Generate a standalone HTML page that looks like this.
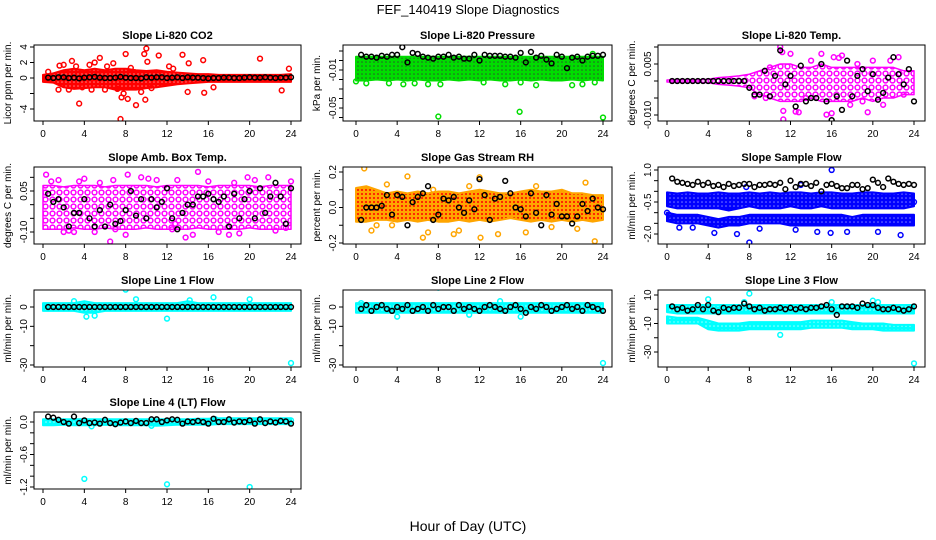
<!DOCTYPE html>
<html><head><meta charset="utf-8"><style>
html,body{margin:0;padding:0;background:#fff;}
svg{display:block;font-family:"Liberation Sans",sans-serif;}
</style></head><body>
<svg id="chart" width="936" height="540" viewBox="0 0 936 540" xmlns="http://www.w3.org/2000/svg">
<defs>
<pattern id="p-red" width="4" height="4" patternUnits="userSpaceOnUse"><rect width="4" height="4" fill="#ff0000"/><circle cx="2" cy="2" r="0.8" fill="#ff8080"/></pattern>
<pattern id="p-green" width="4" height="4" patternUnits="userSpaceOnUse"><rect width="4" height="4" fill="#00dd00"/><circle cx="2" cy="2" r="0.8" fill="#2a5a2a"/></pattern>
<pattern id="p-mag" width="7" height="7" patternUnits="userSpaceOnUse"><rect width="7" height="7" fill="#fff"/><circle cx="3.5" cy="3.5" r="2.4" fill="none" stroke="#ff00ff" stroke-width="1.5"/></pattern>
<pattern id="p-orange" width="4" height="4" patternUnits="userSpaceOnUse"><rect width="4" height="4" fill="#ffa500"/><circle cx="2" cy="2" r="1" fill="#ff0000"/></pattern>
<pattern id="p-blue" width="4" height="4" patternUnits="userSpaceOnUse"><rect width="4" height="4" fill="#0000ff"/><circle cx="2" cy="2" r="0.8" fill="#8080ff"/></pattern>
<pattern id="p-cyan" width="4" height="4" patternUnits="userSpaceOnUse"><rect width="4" height="4" fill="#00ffff"/><circle cx="2" cy="2" r="0.8" fill="#a0ffff"/></pattern>
</defs>
<text x="468" y="14" text-anchor="middle" font-size="13">FEF_140419  Slope Diagnostics</text>
<text x="468" y="531" text-anchor="middle" font-size="14">Hour of Day (UTC)</text>
</svg>
<script>
const NS="http://www.w3.org/2000/svg";
const svg=document.getElementById('chart');
const H=[0.5,1,1.5,2,2.5,3,3.5,4,4.5,5,5.5,6,6.5,7,7.5,8,8.5,9,9.5,10,10.5,11,11.5,12,12.5,13,13.5,14,14.5,15,15.5,16,16.5,17,17.5,18,18.5,19,19.5,20,20.5,21,21.5,22,22.5,23,23.5,24];
const BH=[0,1,2,3,4,5,6,7,8,9,10,11,12,13,14,15,16,17,18,19,20,21,22,23,24];
const xTicks=[0,4,8,12,16,20,24];

// CO2
const co2Black=[0.05,0,0.1,0.1,0,0.05,-0.05,0.05,0.1,0.15,0.05,0,0,0.05,0.15,0.05,0,0,-0.05,0.1,0.05,0.1,0.1,0,0.05,0.1,0,0.1,0.05,0.05,0,-0.05,0,0,0.05,0.05,0,0,0.05,0.1,0.05,0.05,0.1,0.05,0,0.05,0.05,0.1];
const co2Lo=[-0.5,-0.6,-1.2,-1.4,-1.3,-1.2,-1.2,-1.5,-1.5,-1.5,-1.3,-1.2,-1.0,-0.8,-0.7,-0.6,-0.5,-0.5,-0.5,-0.5,-0.5,-0.5,-0.5,-0.5,-0.5];
const co2Hi=[0.4,0.6,1.0,1.2,1.0,1.2,1.0,1.2,1.2,1.0,0.9,1.0,0.8,0.7,0.6,0.5,0.5,0.4,0.4,0.4,0.4,0.4,0.4,0.4,0.5];
const co2PtsX=[0.5,1.5,1.6,2,2.5,2.8,3.2,3.5,3.8,4.5,4.7,5,5.5,6,6.2,6.8,7.2,7.5,7.6,7.8,8,8.2,8.5,9,9.5,9.8,10,10.1,9.9,10.5,11.2,12.2,12.6,13.5,14,14.1,15.5,15.6,16.5,21,23.1,23.8];
const co2PtsY=[0.8,-1.5,1.6,1.7,-1.5,2.2,1.5,-3.3,-1.2,1.7,-1.5,2,2.6,-1.5,1.5,1.9,-1.4,-5.3,-2.5,-2,3.1,-2.7,1.3,-3.5,-1.8,3.1,3.8,2.1,-2.8,-1.3,2.9,1.5,1.2,3,-1.8,1.9,2.3,-1.9,-1.2,2.5,-1.6,1.2];
const co2TickV=[-4,-2,0,2,4];
const co2TickL=["-4","","0","2","4"];

// Pressure
const presBlack=[0.006,0.004,0.004,0.003,0.005,0.004,0.006,0.006,0.014,-0.002,0.008,0.007,0.004,0.003,0.002,0.004,0.004,0.006,0.003,0.004,0.002,0.002,0.006,0,0.006,0.005,0.005,0.005,0.004,0.004,0.003,0.008,-0.002,0.009,0.003,0.005,0.001,-0.003,0.006,0.004,-0.008,0.003,0.004,0,0.004,0.005,0.005,0.006];
const presLo=[-0.021,-0.021,-0.02,-0.021,-0.02,-0.021,-0.02,-0.021,-0.021,-0.02,-0.021,-0.02,-0.021,-0.02,-0.021,-0.021,-0.02,-0.021,-0.02,-0.021,-0.021,-0.02,-0.021,-0.02,-0.021];
const presHi=[0.004,0.004,0.004,0.004,0.004,0.004,0.004,0.004,0.004,0.004,0.004,0.004,0.004,0.004,0.004,0.004,0.004,0.004,0.004,0.004,0.004,0.004,0.004,0.004,0.004];
const presPtsX=[0,1,3.2,4.6,5.7,7,8.2,12.4,14.5,16,17.5,21,22,23.2,8,15.9,24,23];
const presPtsY=[-0.022,-0.024,-0.024,-0.025,-0.024,-0.025,-0.025,-0.023,-0.025,-0.023,-0.026,-0.026,-0.025,-0.023,-0.059,-0.054,-0.06,0.007];
const presTickV=[0.01,0,-0.01,-0.02,-0.03,-0.04,-0.05,-0.06];
const presTickL=["","","-0.01","","","","-0.05",""];

// Li-820 temp
const tempBlack=[0,0,0,0,0,0,0,0,0,0,0,0,0,0,0,-0.002,-0.004,-0.004,0.003,-0.0045,0.0015,0.009,-0.001,0.0015,-0.0075,0.0045,-0.006,-0.005,-0.005,0.005,-0.006,-0.0115,-0.0045,-0.0085,0.006,-0.0045,0.0015,0.0035,-0.003,0.002,-0.0055,-0.0035,0.001,0.007,0.002,-0.001,0.0035,-0.006];
const tempLo=[-0.0003,-0.0003,-0.0003,-0.0003,-0.0005,-0.001,-0.0012,-0.0015,-0.002,-0.004,-0.005,-0.006,-0.006,-0.006,-0.005,-0.006,-0.006,-0.006,-0.006,-0.005,-0.006,-0.005,-0.005,-0.004,-0.004];
const tempHi=[0.0003,0.0003,0.0003,0.0003,0.0005,0.001,0.0012,0.0015,0.002,0.003,0.004,0.005,0.005,0.004,0.004,0.005,0.004,0.004,0.004,0.004,0.004,0.004,0.004,0.003,0.003];
const tempPtsX=[11,11.2,11.3,12.5,12.8,11.3,15,16.2,16.7,17,19.5,15.5,16,22.5,21.7,10,9.6,8.5,14,13.5,17.8,19,21,23,12,18.5,20];
const tempPtsY=[0.01,0.0085,-0.0113,-0.009,-0.0092,-0.0088,0.008,0.007,0.0068,0.0075,-0.0092,-0.0099,-0.0095,0.007,0.006,0.004,-0.005,-0.0045,0.006,-0.005,-0.007,-0.006,-0.007,-0.004,0.008,0.005,0.006];
const tempTickV=[0.01,0.005,0,-0.005,-0.01];
const tempTickL=["","0.005","","","-0.010"];

// Amb box temp
const ambBlack=[0.04,0.01,0.02,-0.01,-0.08,-0.03,-0.03,0.02,-0.05,-0.08,-0.02,-0.08,0,-0.07,-0.06,-0.02,0.05,-0.04,0.02,-0.05,0.02,-0.01,0.01,0.06,-0.05,-0.09,-0.03,0,0,0.03,0.03,0.04,0.02,0.01,0.03,-0.08,0.04,-0.05,0.02,0.05,-0.05,0.06,-0.03,0.03,0.08,0.03,-0.07,0.06];
const ambLo=[-0.09,-0.09,-0.09,-0.085,-0.09,-0.09,-0.085,-0.09,-0.09,-0.09,-0.085,-0.09,-0.09,-0.09,-0.09,-0.085,-0.09,-0.09,-0.09,-0.09,-0.085,-0.09,-0.09,-0.09,-0.09];
const ambHi=[0.07,0.07,0.065,0.07,0.07,0.07,0.065,0.07,0.07,0.07,0.07,0.065,0.07,0.07,0.07,0.07,0.065,0.07,0.07,0.07,0.07,0.065,0.07,0.07,0.07];
const ambPtsX=[0.3,1.5,2.5,3,4,5.5,6.8,7,8,8.2,9.5,10.2,12.5,13,13.8,14.5,15,18,18.5,19,19.8,21.8,23.5,6.5,12.8,0.8,2,3.5,5,11,16,17,20.5,22.5,24];
const ambPtsY=[0.11,0.09,-0.095,-0.1,0.095,0.08,0.09,-0.09,-0.11,0.11,0.1,0.095,-0.09,0.09,-0.12,-0.11,0.12,-0.11,0.08,-0.105,0.1,0.1,-0.085,-0.135,-0.07,0.085,-0.1,0.085,-0.1,0.09,0.085,-0.1,0.09,-0.095,0.085];
const ambTickV=[0.1,0.05,0,-0.05,-0.1];
const ambTickL=["","0.05","","","-0.10"];

// Gas stream RH
const rhBlack=[-0.07,0,0,0,0.01,0.07,-0.04,0.07,0.06,-0.1,0.03,0.06,0.08,0.12,-0.07,-0.04,0.05,0.04,0.06,0,-0.03,0.04,-0.01,0.16,0.07,-0.07,0.05,0.06,0.15,0.08,0,-0.01,-0.05,0.08,-0.03,-0.1,0.07,-0.04,0.02,-0.05,-0.05,-0.09,-0.05,0.02,-0.02,0.05,0,-0.01];
const rhLo=[-0.08,-0.08,-0.07,-0.07,-0.08,-0.07,-0.08,-0.07,-0.08,-0.08,-0.07,-0.08,-0.07,-0.08,-0.07,-0.06,-0.07,-0.08,-0.07,-0.08,-0.07,-0.08,-0.07,-0.08,-0.07];
const rhHi=[0.11,0.12,0.1,0.08,0.09,0.08,0.09,0.08,0.09,0.09,0.08,0.09,0.1,0.09,0.08,0.08,0.09,0.1,0.09,0.09,0.1,0.08,0.08,0.07,0.07];
const rhPtsX=[0.8,1.5,5,6.5,7,9.5,10,12,12.1,13.8,16.5,21.5,22.3,23.2,3,7.5,11,17.5,2,3.5,19];
const rhPtsY=[0.22,-0.13,0.175,-0.17,-0.14,-0.15,-0.13,0.17,-0.17,-0.15,-0.14,-0.12,0.14,-0.19,0.13,0.1,0.12,0.12,-0.1,-0.1,-0.11];
const rhTickV=[0.2,0.1,0,-0.1,-0.2];
const rhTickL=["0.2","","0.0","","-0.2"];

// Sample flow
const sfBlack=[0.6,0.45,0.4,0.35,0.3,0.45,0.3,0.4,0.25,0.3,0.2,0.35,0.25,0.3,0.35,0.35,0.2,0.3,0.3,0.35,0.3,0.4,0.1,0.5,0.2,0.35,0.35,0.25,0.4,0.0,0.3,0.35,0.25,0.15,0.15,0.3,0.3,0.1,0.15,0.55,0.4,0.2,0.6,0.45,0.35,0.3,0.35,0.3];
const sfUpLo=[-0.7,-0.8,-0.8,-0.8,-0.8,-0.8,-0.9,-0.8,-0.7,-0.8,-0.8,-0.8,-0.7,-0.8,-0.8,-0.7,-0.8,-0.8,-0.8,-0.8,-0.8,-0.8,-0.8,-0.8,-0.7];
const sfUpHi=[-0.05,-0.1,-0.05,-0.1,-0.1,-0.05,-0.1,-0.1,-0.05,-0.1,-0.05,-0.1,-0.05,-0.05,-0.1,-0.05,-0.05,-0.1,-0.1,-0.05,-0.05,-0.1,-0.1,-0.05,-0.1];
const sfLowLo=[-1.4,-1.5,-1.5,-1.5,-1.6,-1.7,-1.6,-1.6,-1.5,-1.5,-1.5,-1.5,-1.6,-1.6,-1.6,-1.6,-1.6,-1.6,-1.6,-1.6,-1.6,-1.6,-1.6,-1.6,-1.6];
const sfLowHi=[-1.0,-1.1,-1.1,-1.1,-1.2,-1.3,-1.2,-1.2,-1.1,-1.1,-1.1,-1.1,-1.1,-1.1,-1.1,-1.1,-1.1,-1.1,-1.2,-1.1,-1.1,-1.1,-1.1,-1.1,-1.1];
const sfPtsX=[8,16,6.8,4.6,15.9,22.7,12.5,14.6,17.5,20.5,1.2,2.5,9,13,7.7,0,0.2,24];
const sfPtsY=[-2.4,1.0,-2.0,-1.95,-1.95,-2.05,-1.8,-1.9,-1.9,-1.9,-1.7,-1.7,-1.75,0.3,0.2,-1.0,-1.1,-0.5];
const sfTickV=[1,0.5,0,-0.5,-1,-1.5,-2];
const sfTickL=["1.0","","","-0.5","","","-2.0"];

// Line 1
const l1Black=[0,0,0,0,0,0,0,0,0,0,0,0,0,0,0,0,0,0,0,0,0,0,0,0,0,0,0,0,0,0,0,0,0,0,0,0,0,0,0,0,0,0,0,0,0,0,0,0];
const l1Lo=[-2,-2,-2,-2,-3,-3,-2,-2,-2,-2,-2,-2,-2,-2,-2,-2,-2,-2,-2,-2,-2,-2,-2,-2,-2];
const l1Hi=[2,2,2,2,3,2,2,2,2,2,2,2,2,2,3,2,2,2,2,2,2,2,2,2,2];
const l1PtsX=[8,9,12,4.2,5,16.5,20,24,3,14.2];
const l1PtsY=[9,4,-6,-5,-4.5,5,4,-29,3,3.5];
const lineTickV=[0,-10,-20,-30];
const lineTickL=["0","-10","","-30"];

// Line 2
const l2Black=[-1,1,-2,0,1,-1,-2,0,-1,1,-2,-1,0,-2,1,-1,0,0,-2,1,-1,0,-1,-2,0,1,0,-1,-2,0,1,-1,-3,0,-1,1,0,-2,-1,0,1,-1,0,-2,1,0,-1,-2];
const l2Lo=[-3,-3,-3,-3,-3,-3,-3,-3,-3,-3,-3,-3,-3,-3,-3,-3,-3,-3,-3,-3,-3,-3,-3,-3,-3];
const l2Hi=[2,2,2,2,2,2,2,2,2,2,2,2,2,2,2,2,2,2,2,2,2,2,2,2,2];
const l2PtsX=[8,24,4,11,16,0.5,14];
const l2PtsY=[10,-29,-5,-4,-5,2,3];

// Line 3
const l3Black=[2,0,1,-1,0,3,0,3,-1,-2,1,0,1,1,4,2,0,1,-1,0,0,1,0,1,0,1,0,1,1,2,3,0,-4,2,2,2,1,4,3,3,1,0,0,1,0,-1,0,2];
const l3UpLo=[-2,-3,-3,-3,-3,-3,-3,-3,-3,-3,-3,-3,-3,-3,-3,-3,-3,-3,-3,-3,-3,-3,-3,-3,-3];
const l3UpHi=[3,3,3,3,3,3,3,3,3,3,3,3,3,3,3,3,3,3,3,3,3,3,3,3,3];
const l3LowLo=[-10,-10,-10,-10,-14,-15,-15,-15,-14,-14,-14,-14,-14,-14,-13,-13,-13,-13,-14,-14,-14,-15,-15,-15,-15];
const l3LowHi=[-5,-6,-6,-6,-8,-10,-10,-10,-9,-9,-9,-9,-9,-9,-8,-8,-8,-8,-9,-10,-10,-10,-11,-11,-11];
const l3PtsX=[8,4,24,11,7.5,16,20,20.5];
const l3PtsY=[11,7,-38,-18,5,5,6,5];
const l3TickV=[10,0,-10,-20,-30];
const l3TickL=["10","","-10","","-30"];

// Line 4
const l4Black=[0.1,0.08,0.04,0,-0.03,0.1,-0.02,0.03,-0.02,-0.01,-0.03,0.04,-0.02,-0.04,-0.01,0.01,-0.02,0.02,-0.02,-0.02,0.05,0.05,0,0.03,0.05,0.04,-0.03,0.01,0,0.02,0,-0.03,0.06,0,0,0.05,-0.01,0.01,0,0.03,-0.03,0.05,-0.02,0.01,-0.01,0.02,0.01,-0.03];
const l4Lo=[-0.06,-0.06,-0.05,-0.06,-0.06,-0.06,-0.05,-0.06,-0.06,-0.06,-0.06,-0.07,-0.06,-0.05,-0.05,-0.05,-0.05,-0.04,-0.04,-0.04,-0.04,-0.04,-0.04,-0.04,-0.04];
const l4Hi=[0.05,0.05,0.05,0.05,0.05,0.05,0.05,0.05,0.05,0.05,0.05,0.05,0.05,0.05,0.05,0.06,0.06,0.07,0.07,0.07,0.07,0.07,0.07,0.07,0.07];
const l4PtsX=[4,12,20,16.7,24,4.7,10.5];
const l4PtsY=[-1.05,-1.15,-1.2,0.05,0.03,-0.08,-0.07];
const l4TickV=[0,-0.2,-0.4,-0.6,-0.8,-1.0,-1.2];
const l4TickL=["0.0","","","-0.6","","","-1.2"];

function mk(tag,attrs,parent){const e=document.createElementNS(NS,tag);for(const k in attrs)e.setAttribute(k,attrs[k]);(parent||svg).appendChild(e);return e;}
const COLS=[{bx0:34,bx1:301,xa:43,xb:291},{bx0:343,bx1:612,xa:356,xb:603},{bx0:658,bx1:925,xa:667,xb:914}];
const ROWS=[{by0:45,by1:121},{by0:167,by1:244},{by0:290,by1:367},{by0:412,by1:489}];

function panel(o){
  const c=COLS[o.col],r=ROWS[o.row];
  const g=mk('g',{});
  
  
  const X=h=>c.xa+h*(c.xb-c.xa)/24;
  const Y=v=>o.ya+(v-o.va)*(o.yb-o.ya)/(o.vb-o.va);
  const cp=mk('clipPath',{id:'cl'+o.name},g);
  mk('rect',{x:c.bx0,y:r.by0,width:c.bx1-c.bx0,height:r.by1-r.by0},cp);
  const plot=mk('g',{'clip-path':'url(#cl'+o.name+')'},g);
  (o.bands||[]).forEach((b,bi)=>{
    let pts=BH.map((h,i)=>X(h)+','+Y(b.hi[i]));
    pts=pts.concat(BH.slice().reverse().map((h,j)=>X(h)+','+Y(b.lo[BH.length-1-j])));
    const p=mk('polygon',{points:pts.join(' '),fill:'url(#'+o.pat+')',stroke:o.color,'stroke-width':o.edge||2,'stroke-linejoin':'round'},plot);
    
    
  });
  o.px.forEach((h,i)=>{
    const e=mk('circle',{cx:X(h),cy:Y(o.py[i]),r:2.4,fill:'none',stroke:o.color,'stroke-width':1.5},plot);
    
    
  });
  o.black.forEach((v,i)=>{
    const e=mk('circle',{cx:X(H[i]),cy:Y(v),r:2.4,fill:'none',stroke:'#000','stroke-width':1.5},plot);
    
    
  });
  const box=mk('rect',{x:c.bx0,y:r.by0,width:c.bx1-c.bx0,height:r.by1-r.by0,fill:'none',stroke:'#000','stroke-width':1},g);
  
  
  const t=mk('text',{x:(c.bx0+c.bx1)/2,y:r.by0-6,'text-anchor':'middle','font-size':11,'font-weight':'bold'},g);
  t.textContent=o.title;
  
  
  xTicks.forEach(h=>{
    mk('line',{x1:X(h),x2:X(h),y1:r.by1,y2:r.by1+4,stroke:'#000'},g);
    const l=mk('text',{x:X(h),y:r.by1+16,'text-anchor':'middle','font-size':10},g);
    l.textContent=h;
    
    
  });
  o.tv.forEach((v,i)=>{
    const y=Y(v);
    mk('line',{x1:c.bx0-4,x2:c.bx0,y1:y,y2:y,stroke:'#000'},g);
    if(o.tl[i]){
      const l=mk('text',{x:0,y:0,'text-anchor':'middle','font-size':10,transform:`translate(${c.bx0-7},${y}) rotate(-90)`},g);
      l.textContent=o.tl[i];
      
      
    }
  });
  const yl=mk('text',{x:0,y:0,'text-anchor':'middle','font-size':10,transform:`translate(${c.bx0-23},${(r.by0+r.by1)/2}) rotate(-90)`},g);
  yl.textContent=o.ylab;
  
  
}

panel({name:'co2',col:0,row:0,title:'Slope Li-820 CO2',ylab:'Licor ppm per min.',va:4,ya:47,vb:-4,yb:109,tv:co2TickV,tl:co2TickL,color:'#ff0000',pat:'p-red',bands:[{lo:co2Lo,hi:co2Hi}],px:co2PtsX,py:co2PtsY,black:co2Black});
panel({name:'pressure',col:1,row:0,title:'Slope Li-820 Pressure',ylab:'kPa per min.',va:-0.01,ya:70,vb:-0.05,yb:108,tv:presTickV,tl:presTickL,color:'#00dd00',pat:'p-green',bands:[{lo:presLo,hi:presHi}],px:presPtsX,py:presPtsY,black:presBlack});
panel({name:'li820-temp',col:2,row:0,title:'Slope Li-820 Temp.',ylab:'degrees C per min.',va:0.005,ya:64,vb:-0.01,yb:115,tv:tempTickV,tl:tempTickL,color:'#ff00ff',pat:'p-mag',edge:1.5,bands:[{lo:tempLo,hi:tempHi}],px:tempPtsX,py:tempPtsY,black:tempBlack});
panel({name:'amb-box-temp',col:0,row:1,title:'Slope Amb. Box Temp.',ylab:'degrees C per min.',va:0.05,ya:191,vb:-0.1,yb:232,tv:ambTickV,tl:ambTickL,color:'#ff00ff',pat:'p-mag',edge:1.5,bands:[{lo:ambLo,hi:ambHi}],px:ambPtsX,py:ambPtsY,black:ambBlack});
panel({name:'gas-stream-rh',col:1,row:1,title:'Slope Gas Stream RH',ylab:'percent per min.',va:0.2,ya:172,vb:-0.2,yb:243,tv:rhTickV,tl:rhTickL,color:'#ffa500',pat:'p-orange',bands:[{lo:rhLo,hi:rhHi}],px:rhPtsX,py:rhPtsY,black:rhBlack});
panel({name:'sample-flow',col:2,row:1,title:'Slope Sample Flow',ylab:'ml/min per min.',va:1,ya:170,vb:-2,yb:234,tv:sfTickV,tl:sfTickL,color:'#0000ff',pat:'p-blue',bands:[{lo:sfUpLo,hi:sfUpHi},{lo:sfLowLo,hi:sfLowHi}],px:sfPtsX,py:sfPtsY,black:sfBlack});
panel({name:'line1-flow',col:0,row:2,title:'Slope Line 1 Flow',ylab:'ml/min per min.',va:0,ya:307,vb:-30,yb:365,tv:lineTickV,tl:lineTickL,color:'#00ffff',pat:'p-cyan',bands:[{lo:l1Lo,hi:l1Hi}],px:l1PtsX,py:l1PtsY,black:l1Black});
panel({name:'line2-flow',col:1,row:2,title:'Slope Line 2 Flow',ylab:'ml/min per min.',va:0,ya:307,vb:-30,yb:365,tv:lineTickV,tl:lineTickL,color:'#00ffff',pat:'p-cyan',bands:[{lo:l2Lo,hi:l2Hi}],px:l2PtsX,py:l2PtsY,black:l2Black});
panel({name:'line3-flow',col:2,row:2,title:'Slope Line 3 Flow',ylab:'ml/min per min.',va:10,ya:295,vb:-30,yb:352,tv:l3TickV,tl:l3TickL,color:'#00ffff',pat:'p-cyan',bands:[{lo:l3UpLo,hi:l3UpHi},{lo:l3LowLo,hi:l3LowHi}],px:l3PtsX,py:l3PtsY,black:l3Black});
panel({name:'line4-flow',col:0,row:3,title:'Slope Line 4 (LT) Flow',ylab:'ml/min per min.',va:0,ya:422,vb:-1.2,yb:487,tv:l4TickV,tl:l4TickL,color:'#00ffff',pat:'p-cyan',bands:[{lo:l4Lo,hi:l4Hi}],px:l4PtsX,py:l4PtsY,black:l4Black});
</script>
</body></html>
